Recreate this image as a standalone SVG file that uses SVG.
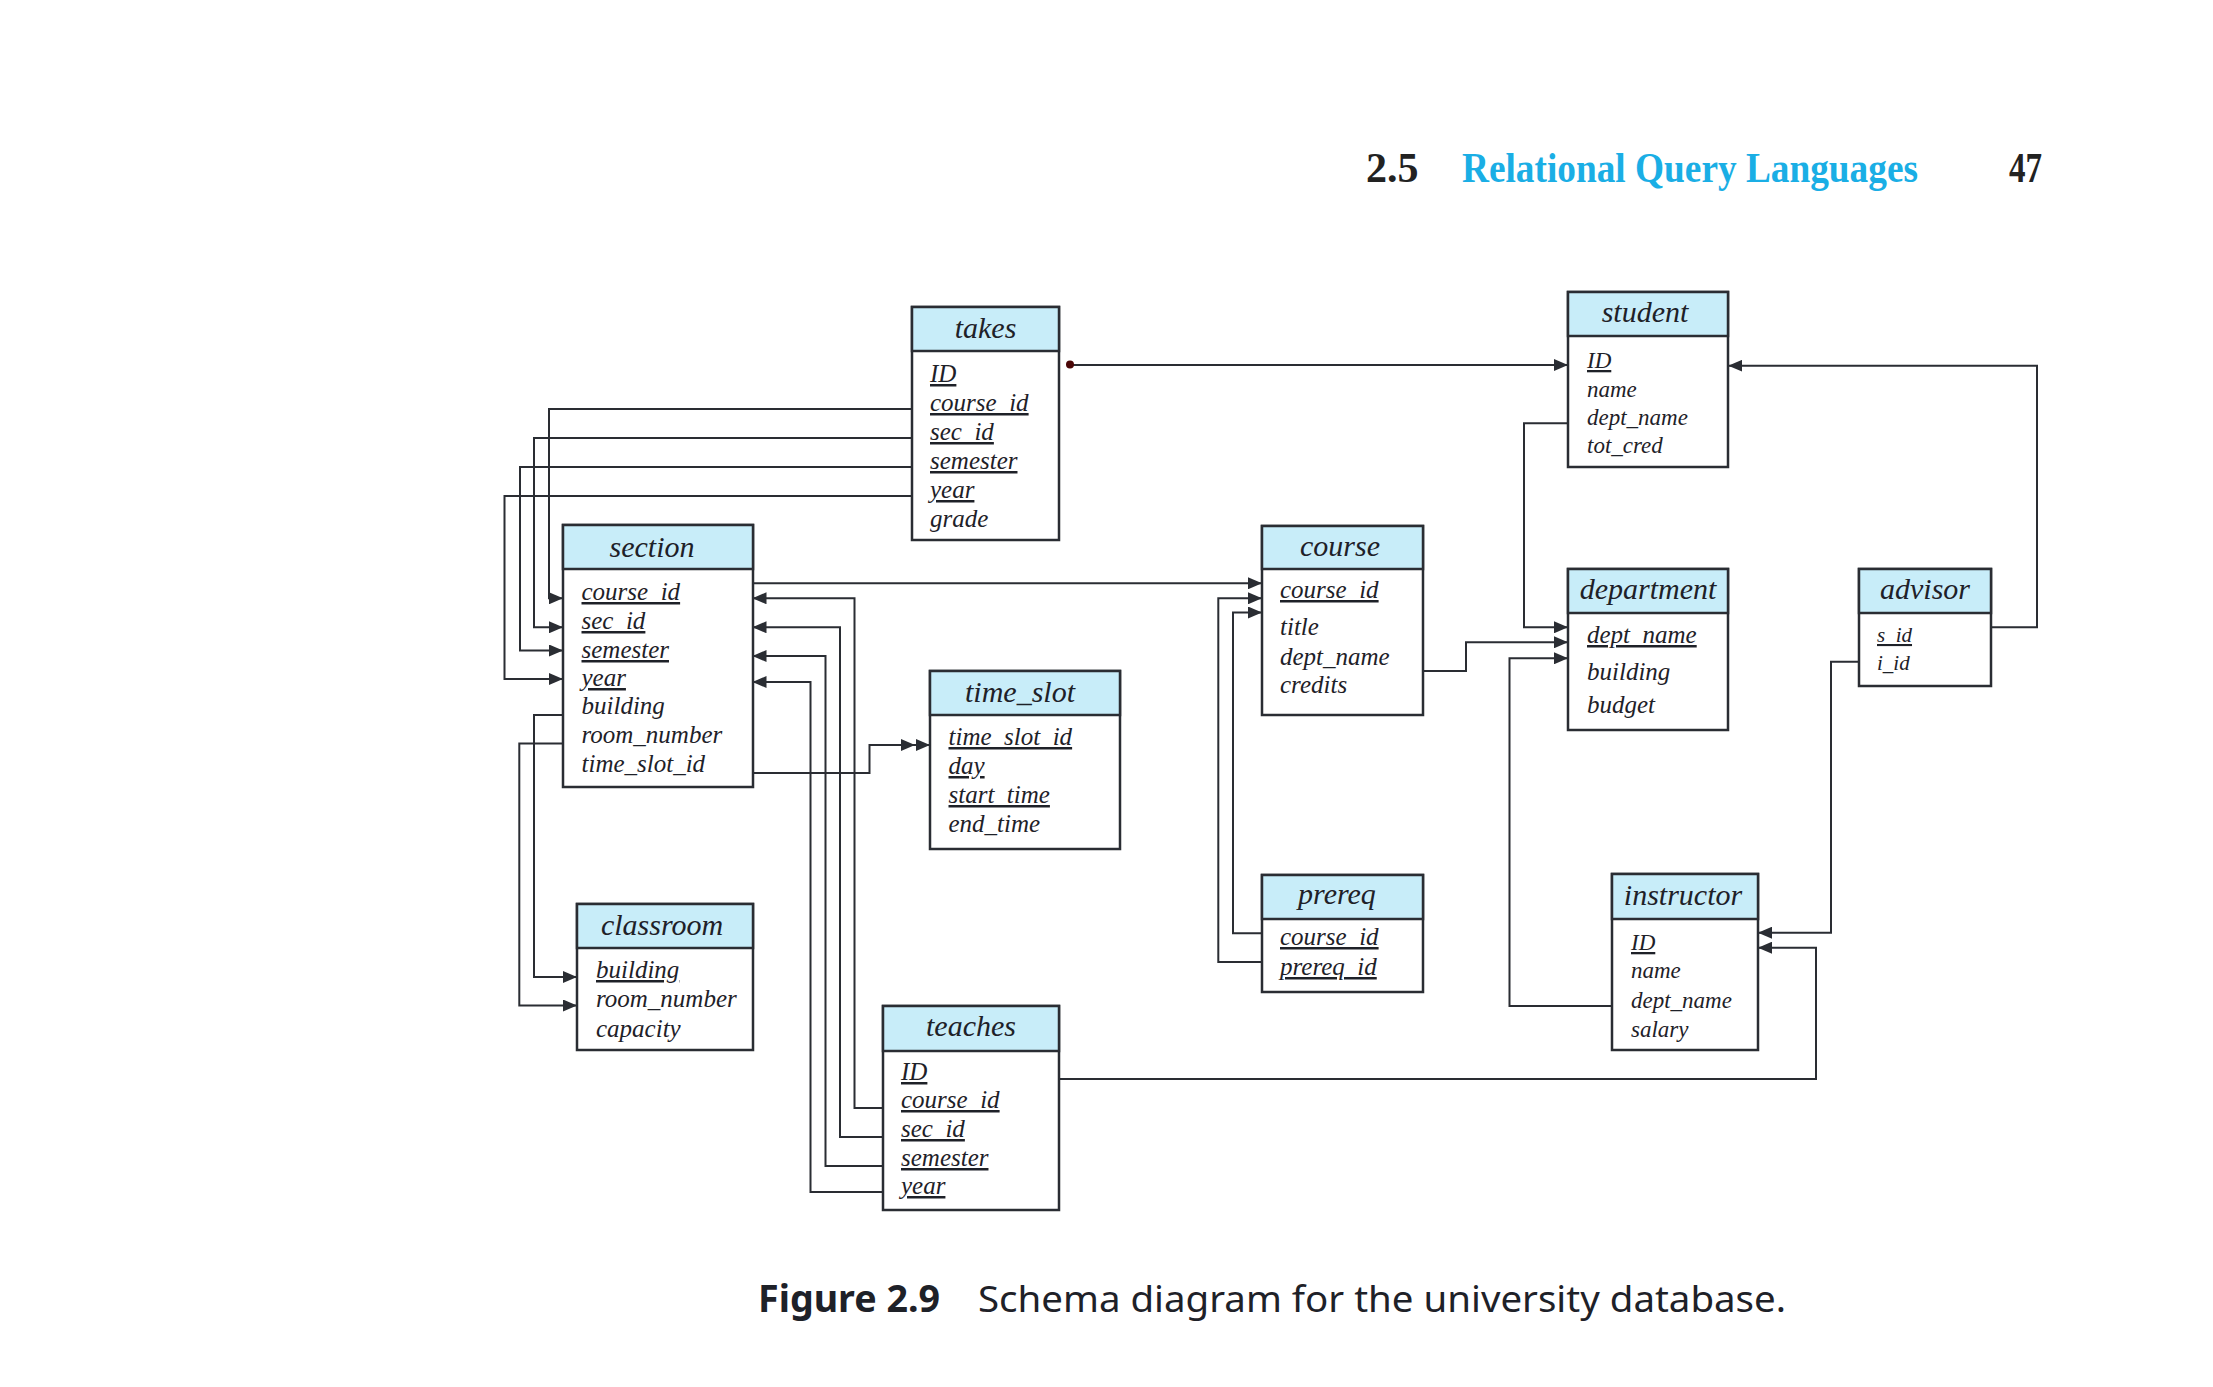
<svg xmlns="http://www.w3.org/2000/svg" width="2213" height="1387" viewBox="0 0 2213 1387">
<style>
.box{fill:#fff;stroke:#2a2d33;stroke-width:2.5}
.hdr{fill:#c8edf9;stroke:#2a2d33;stroke-width:2.5}
.ttl{font-family:"Liberation Serif",serif;font-style:italic;font-size:30px;fill:#1e2128;text-anchor:middle}
.att{font-family:"Liberation Serif",serif;font-style:italic;font-size:25px;fill:#1e2128}
.sm{font-size:23px}
.xs{font-size:21px}
.pk{text-decoration:underline}
.con{fill:none;stroke:#2a2d33;stroke-width:2}
.head{font-family:"Liberation Serif",serif;font-weight:bold;font-size:42px}
.cap{font-family:"Noto Sans","Open Sans",sans-serif;font-size:37px;fill:#1e2128}
</style>
<defs>
<marker id="arr" markerUnits="userSpaceOnUse" markerWidth="14" markerHeight="12" refX="14" refY="6" orient="auto">
<path d="M0,0 L14,6 L0,12 Z" fill="#2a2d33"/>
</marker>
<marker id="arr2" markerUnits="userSpaceOnUse" markerWidth="29" markerHeight="12" refX="29" refY="6" orient="auto">
<path d="M0,0 L14,6 L0,12 Z M15,0 L29,6 L15,12 Z" fill="#2a2d33"/>
</marker>
</defs>
<rect width="2213" height="1387" fill="#fff"/>

<g id="page-header">
<text class="head" x="1366" y="182" fill="#222">2.5</text>
<text class="head" x="1462" y="182" fill="#1aaee5" textLength="456" lengthAdjust="spacingAndGlyphs">Relational Query Languages</text>
<text class="head" x="2009" y="182" fill="#222" textLength="33" lengthAdjust="spacingAndGlyphs">47</text>
</g>

<g id="connectors">
<path class="con" d="M912,409 H549 V598.3 H563" marker-end="url(#arr)"/>
<path class="con" d="M912,438 H534 V627.3 H563" marker-end="url(#arr)"/>
<path class="con" d="M912,467 H520 V650.5 H563" marker-end="url(#arr)"/>
<path class="con" d="M912,496 H504.5 V679 H563" marker-end="url(#arr)"/>
<path class="con" d="M1070,365 H1568" marker-end="url(#arr)"/>
<circle cx="1070" cy="364.5" r="4" fill="#4a0606"/>
<path class="con" d="M752.5,583.3 H1262" marker-end="url(#arr)"/>
<path class="con" d="M752.5,773 H869.5 V745 H930" marker-end="url(#arr2)"/>
<path class="con" d="M563,715 H534 V977 H577" marker-end="url(#arr)"/>
<path class="con" d="M563,743.5 H519.3 V1005.5 H577" marker-end="url(#arr)"/>
<path class="con" d="M883,1108 H854.5 V598.3 H752.5" marker-end="url(#arr)"/>
<path class="con" d="M883,1137 H840 V627.3 H752.5" marker-end="url(#arr)"/>
<path class="con" d="M883,1166 H825.5 V656 H752.5" marker-end="url(#arr)"/>
<path class="con" d="M883,1192 H810.5 V682 H752.5" marker-end="url(#arr)"/>
<path class="con" d="M1058.7,1079 H1816 V947.7 H1758" marker-end="url(#arr)"/>
<path class="con" d="M1262,933.3 H1233 V612.5 H1262" marker-end="url(#arr)"/>
<path class="con" d="M1262,962 H1218.3 V598.3 H1262" marker-end="url(#arr)"/>
<path class="con" d="M1422.7,671 H1466 V642.3 H1568" marker-end="url(#arr)"/>
<path class="con" d="M1568,423.3 H1524 V627.3 H1568" marker-end="url(#arr)"/>
<path class="con" d="M1612,1006 H1509.5 V658.3 H1568" marker-end="url(#arr)"/>
<path class="con" d="M1991,627.3 H2037 V365.7 H1728.3" marker-end="url(#arr)"/>
<path class="con" d="M1859,661.7 H1831 V932.7 H1758" marker-end="url(#arr)"/>
</g>

<g id="takes">
<rect class="box" x="912" y="307" width="147" height="233"/>
<rect class="hdr" x="912" y="307" width="147" height="44"/>
<text class="ttl" x="985.5" y="338">takes</text>
<text class="att pk" x="930" y="382">ID</text>
<text class="att pk" x="930" y="411">course_id</text>
<text class="att pk" x="930" y="440">sec_id</text>
<text class="att pk" x="930" y="469">semester</text>
<text class="att pk" x="930" y="498">year</text>
<text class="att" x="930" y="527">grade</text>
</g>

<g id="section">
<rect class="box" x="563" y="525" width="190" height="262"/>
<rect class="hdr" x="563" y="525" width="190" height="44"/>
<text class="ttl" x="652" y="557">section</text>
<text class="att pk" x="581.5" y="600">course_id</text>
<text class="att pk" x="581.5" y="629">sec_id</text>
<text class="att pk" x="581.5" y="658">semester</text>
<text class="att pk" x="581.5" y="686">year</text>
<text class="att" x="581.5" y="714">building</text>
<text class="att" x="581.5" y="743">room_number</text>
<text class="att" x="581.5" y="772">time_slot_id</text>
</g>

<g id="time_slot">
<rect class="box" x="930" y="671" width="190" height="178"/>
<rect class="hdr" x="930" y="671" width="190" height="44"/>
<text class="ttl" x="1020" y="702">time_slot</text>
<text class="att pk" x="948.5" y="745">time_slot_id</text>
<text class="att pk" x="948.5" y="774">day</text>
<text class="att pk" x="948.5" y="803">start_time</text>
<text class="att" x="948.5" y="832">end_time</text>
</g>

<g id="classroom">
<rect class="box" x="577" y="904" width="176" height="146"/>
<rect class="hdr" x="577" y="904" width="176" height="44"/>
<text class="ttl" x="662" y="935">classroom</text>
<text class="att pk" x="596" y="978">building</text>
<text class="att" x="596" y="1007">room_number</text>
<text class="att" x="596" y="1037">capacity</text>
</g>

<g id="teaches">
<rect class="box" x="883" y="1006" width="176" height="204"/>
<rect class="hdr" x="883" y="1006" width="176" height="45"/>
<text class="ttl" x="971" y="1036">teaches</text>
<text class="att pk" x="901" y="1080">ID</text>
<text class="att pk" x="901" y="1108">course_id</text>
<text class="att pk" x="901" y="1137">sec_id</text>
<text class="att pk" x="901" y="1166">semester</text>
<text class="att pk" x="901" y="1194">year</text>
</g>

<g id="course">
<rect class="box" x="1262" y="526" width="161" height="189"/>
<rect class="hdr" x="1262" y="526" width="161" height="43"/>
<text class="ttl" x="1340" y="556">course</text>
<text class="att pk" x="1280" y="598">course_id</text>
<text class="att" x="1280" y="635">title</text>
<text class="att" x="1280" y="665">dept_name</text>
<text class="att" x="1280" y="693">credits</text>
</g>

<g id="prereq">
<rect class="box" x="1262" y="875" width="161" height="117"/>
<rect class="hdr" x="1262" y="875" width="161" height="44"/>
<text class="ttl" x="1337" y="904">prereq</text>
<text class="att pk" x="1280" y="945">course_id</text>
<text class="att pk" x="1280" y="975">prereq_id</text>
</g>

<g id="student">
<rect class="box" x="1568" y="292" width="160" height="175"/>
<rect class="hdr" x="1568" y="292" width="160" height="44"/>
<text class="ttl" x="1645" y="322">student</text>
<text class="att sm pk" x="1587" y="368">ID</text>
<text class="att sm" x="1587" y="397">name</text>
<text class="att sm" x="1587" y="425">dept_name</text>
<text class="att sm" x="1587" y="453">tot_cred</text>
</g>

<g id="department">
<rect class="box" x="1568" y="569" width="160" height="161"/>
<rect class="hdr" x="1568" y="569" width="160" height="44"/>
<text class="ttl" x="1648" y="599">department</text>
<text class="att pk" x="1587" y="643">dept_name</text>
<text class="att" x="1587" y="680">building</text>
<text class="att" x="1587" y="713">budget</text>
</g>

<g id="advisor">
<rect class="box" x="1859" y="569" width="132" height="117"/>
<rect class="hdr" x="1859" y="569" width="132" height="44"/>
<text class="ttl" x="1925" y="599">advisor</text>
<text class="att xs pk" x="1877" y="642">s_id</text>
<text class="att xs" x="1877" y="670">i_id</text>
</g>

<g id="instructor">
<rect class="box" x="1612" y="874" width="146" height="176"/>
<rect class="hdr" x="1612" y="874" width="146" height="45"/>
<text class="ttl" x="1683" y="905">instructor</text>
<text class="att sm pk" x="1631" y="950">ID</text>
<text class="att sm" x="1631" y="978">name</text>
<text class="att sm" x="1631" y="1008">dept_name</text>
<text class="att sm" x="1631" y="1037">salary</text>
</g>

<g id="caption">
<text class="cap" x="758" y="1312" font-weight="bold" textLength="182" lengthAdjust="spacingAndGlyphs">Figure 2.9</text>
<text class="cap" x="978" y="1312" textLength="808" lengthAdjust="spacingAndGlyphs">Schema diagram for the university database.</text>
</g>
</svg>
